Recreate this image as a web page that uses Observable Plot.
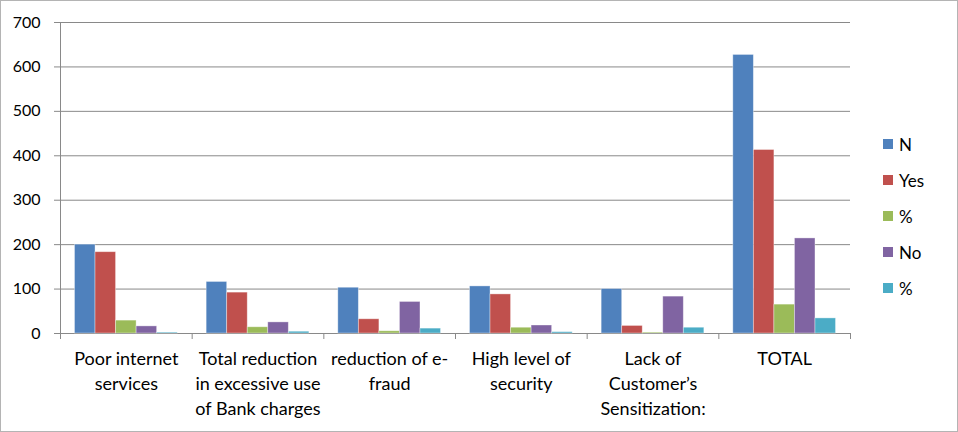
<!DOCTYPE html>
<html><head><meta charset="utf-8">
<script src="https://cdn.jsdelivr.net/npm/d3@7"></script>
<script src="https://cdn.jsdelivr.net/npm/@observablehq/plot@0.6"></script>
<style>
body{margin:0;background:#fff;font-family:Lato,"Noto Sans",sans-serif}
#wrap{position:relative;width:958px;height:432px;overflow:hidden}
#frame{position:absolute;left:0;top:0;width:956px;height:430px;border:1px solid #b4b4b4;pointer-events:none}
#legend{position:absolute;left:883px;top:126px}
.item{display:flex;align-items:center;height:36px;font-size:17px;color:#000}
.sw{width:10px;height:10px;margin-right:6px}
</style></head><body>
<div id="wrap"><div id="chart"></div><div id="legend"></div><div id="frame"></div></div>
<script>
const categories = [
  "Poor internet\nservices",
  "Total reduction\nin excessive use\nof Bank charges",
  "reduction of e-\nfraud",
  "High level of\nsecurity",
  "Lack of\nCustomer’s\nSensitization:",
  "TOTAL"
];
const seriesKeys = ["N", "Yes", "%a", "No", "%b"];
const seriesLabels = ["N", "Yes", "%", "No", "%"];
const seriesColors = ["#4F81BD", "#C0504D", "#9BBB59", "#8064A2", "#4BACC6"];
const valuesN   = [200, 116, 103, 106, 100, 627];
const valuesYes = [183, 92, 32, 88, 17, 413];
const valuesPctYes = [29, 14, 5, 13, 2, 65];
const valuesNo  = [16, 25, 71, 18, 83, 214];
const valuesPctNo = [2, 4, 11, 3, 13, 34];
const yTicks = [0, 100, 200, 300, 400, 500, 600, 700];

const seriesValues = [valuesN, valuesYes, valuesPctYes, valuesNo, valuesPctNo];
const groupPad = 0.11;
const barW = (1 - 2 * groupPad) / seriesKeys.length;
const rows = [];
categories.forEach((c, ci) => {
  seriesKeys.forEach((k, si) => {
    const x1 = ci + groupPad + si * barW;
    rows.push({key: k, value: seriesValues[si][ci], x1, x2: x1 + barW});
  });
});
const gridColor = "#898989";

const chart = Plot.plot({
  width: 958,
  height: 432,
  marginLeft: 60,
  marginRight: 108,
  marginTop: 22,
  marginBottom: 99,
  style: {fontFamily: "Lato, 'Noto Sans', sans-serif", background: "transparent"},
  x: {domain: [0, categories.length]},
  y: {domain: [0, 700]},
  color: {type: "ordinal", domain: seriesKeys, range: seriesColors},
  marks: [
    Plot.ruleY(yTicks, {stroke: gridColor, strokeWidth: 1}),
    Plot.ruleX([0], {y1: 0, y2: 700, stroke: gridColor}),
    Plot.axisY({ticks: yTicks, tickSize: 6, tickPadding: 14, fontSize: 16, stroke: gridColor, fill: "#000", label: null}),
    Plot.axisX({ticks: d3.range(0, categories.length + 1), tickSize: 6, tickFormat: () => "", stroke: gridColor, label: null}),
    Plot.rectY(rows, {x1: "x1", x2: "x2", y1: 0, y2: "value", fill: "key", stroke: "#fff", strokeOpacity: 0.45, strokeWidth: 0.8}),
    Plot.text(categories, {x: (d, i) => i + 0.5, y: 0, text: d => d, lineAnchor: "top", dy: 14, fontSize: 18, lineHeight: 1.39, fill: "#000"})
  ]
});
document.getElementById("chart").appendChild(chart);

const legend = document.getElementById("legend");
seriesLabels.forEach((lab, i) => {
  const it = document.createElement("div");
  it.className = "item";
  const sw = document.createElement("div");
  sw.className = "sw";
  sw.style.background = seriesColors[i];
  const tx = document.createElement("span");
  tx.textContent = lab;
  it.appendChild(sw); it.appendChild(tx);
  legend.appendChild(it);
});
</script>
</body></html>
